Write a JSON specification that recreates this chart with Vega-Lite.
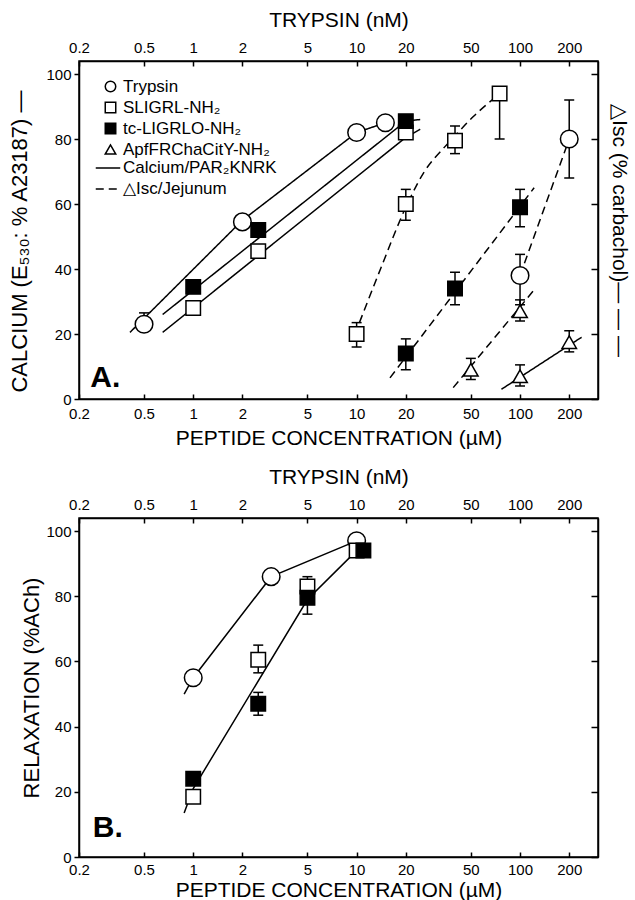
{
  "$schema": "https://vega.github.io/schema/vega-lite/v6.json",
  "background": "white",
  "padding": {"left": 8, "top": 8, "right": 0, "bottom": 0},
  "spacing": 16,
  "config": {
    "font": "Liberation Sans",
    "view": {"stroke": "black", "strokeWidth": 1.5},
    "axis": {"domainColor": "black", "domainWidth": 1.5, "tickColor": "black", "tickWidth": 1.5, "labelColor": "black", "titleColor": "black", "labelFont": "Liberation Sans", "titleFont": "Liberation Sans", "labelFontSize": 15, "titleFontSize": 21, "titleFontWeight": "normal", "grid": false},
    "legend": {"labelFont": "Liberation Sans", "labelColor": "black"}
  },
  "datasets": {
    "ptsA": [
      {"agent": "Trypsin", "assay": "Calcium/PAR₂KNRK", "x": 0.5, "y": 23, "lo": 23, "hi": 26.5},
      {"agent": "Trypsin", "assay": "Calcium/PAR₂KNRK", "x": 2, "y": 54.5, "lo": 54.5, "hi": 54.5},
      {"agent": "Trypsin", "assay": "Calcium/PAR₂KNRK", "x": 10, "y": 82, "lo": 82, "hi": 82},
      {"agent": "Trypsin", "assay": "Calcium/PAR₂KNRK", "x": 15, "y": 85, "lo": 85, "hi": 85},
      {"agent": "Trypsin", "assay": "△Isc/Jejunum", "x": 100, "y": 38, "lo": 29, "hi": 44.5},
      {"agent": "Trypsin", "assay": "△Isc/Jejunum", "x": 200, "y": 80, "lo": 68, "hi": 92},
      {"agent": "SLIGRL-NH₂", "assay": "Calcium/PAR₂KNRK", "x": 1, "y": 28, "lo": 28, "hi": 28},
      {"agent": "SLIGRL-NH₂", "assay": "Calcium/PAR₂KNRK", "x": 2.5, "y": 45.5, "lo": 45.5, "hi": 45.5},
      {"agent": "SLIGRL-NH₂", "assay": "Calcium/PAR₂KNRK", "x": 20, "y": 82, "lo": 82, "hi": 82},
      {"agent": "SLIGRL-NH₂", "assay": "△Isc/Jejunum", "x": 10, "y": 20, "lo": 16, "hi": 23.5},
      {"agent": "SLIGRL-NH₂", "assay": "△Isc/Jejunum", "x": 20, "y": 60, "lo": 55, "hi": 64.5},
      {"agent": "SLIGRL-NH₂", "assay": "△Isc/Jejunum", "x": 40, "y": 79.5, "lo": 75.5, "hi": 84},
      {"agent": "SLIGRL-NH₂", "assay": "△Isc/Jejunum", "x": 75, "y": 94, "lo": 80, "hi": 94},
      {"agent": "tc-LIGRLO-NH₂", "assay": "Calcium/PAR₂KNRK", "x": 1, "y": 34.5, "lo": 34.5, "hi": 34.5},
      {"agent": "tc-LIGRLO-NH₂", "assay": "Calcium/PAR₂KNRK", "x": 2.5, "y": 52, "lo": 52, "hi": 52},
      {"agent": "tc-LIGRLO-NH₂", "assay": "Calcium/PAR₂KNRK", "x": 20, "y": 85.5, "lo": 85.5, "hi": 85.5},
      {"agent": "tc-LIGRLO-NH₂", "assay": "△Isc/Jejunum", "x": 20, "y": 14, "lo": 9, "hi": 18.5},
      {"agent": "tc-LIGRLO-NH₂", "assay": "△Isc/Jejunum", "x": 40, "y": 34, "lo": 29, "hi": 39},
      {"agent": "tc-LIGRLO-NH₂", "assay": "△Isc/Jejunum", "x": 100, "y": 59, "lo": 53, "hi": 64.5},
      {"agent": "ApfFRChaCitY-NH₂", "assay": "Calcium/PAR₂KNRK", "x": 100, "y": 7, "lo": 4, "hi": 10.5},
      {"agent": "ApfFRChaCitY-NH₂", "assay": "Calcium/PAR₂KNRK", "x": 200, "y": 17.5, "lo": 14.5, "hi": 21},
      {"agent": "ApfFRChaCitY-NH₂", "assay": "△Isc/Jejunum", "x": 50, "y": 9, "lo": 6, "hi": 12.5},
      {"agent": "ApfFRChaCitY-NH₂", "assay": "△Isc/Jejunum", "x": 100, "y": 27, "lo": 24, "hi": 30.5}
    ],
    "fitCa": [
      {"series": "ca-tryp", "assay": "Calcium/PAR₂KNRK", "x": 0.41, "y": 20.5},
      {"series": "ca-tryp", "assay": "Calcium/PAR₂KNRK", "x": 2, "y": 55},
      {"series": "ca-tryp", "assay": "Calcium/PAR₂KNRK", "x": 10, "y": 82},
      {"series": "ca-tryp", "assay": "Calcium/PAR₂KNRK", "x": 15, "y": 85},
      {"series": "ca-tc", "assay": "Calcium/PAR₂KNRK", "x": 0.65, "y": 26},
      {"series": "ca-tc", "assay": "Calcium/PAR₂KNRK", "x": 20, "y": 85.5},
      {"series": "ca-tc", "assay": "Calcium/PAR₂KNRK", "x": 24.5, "y": 86},
      {"series": "ca-sli", "assay": "Calcium/PAR₂KNRK", "x": 0.65, "y": 20.5},
      {"series": "ca-sli", "assay": "Calcium/PAR₂KNRK", "x": 20, "y": 80.5},
      {"series": "ca-sli", "assay": "Calcium/PAR₂KNRK", "x": 24.5, "y": 83},
      {"series": "ca-apf", "assay": "Calcium/PAR₂KNRK", "x": 77, "y": 3},
      {"series": "ca-apf", "assay": "Calcium/PAR₂KNRK", "x": 238, "y": 19}
    ],
    "fitIsc": [
      {"series": "isc-sli", "assay": "△Isc/Jejunum", "x": 10.4, "y": 23.5},
      {"series": "isc-sli", "assay": "△Isc/Jejunum", "x": 14, "y": 40},
      {"series": "isc-sli", "assay": "△Isc/Jejunum", "x": 20, "y": 59},
      {"series": "isc-sli", "assay": "△Isc/Jejunum", "x": 26, "y": 70},
      {"series": "isc-sli", "assay": "△Isc/Jejunum", "x": 34.5, "y": 77.5},
      {"series": "isc-sli", "assay": "△Isc/Jejunum", "x": 40, "y": 81},
      {"series": "isc-sli", "assay": "△Isc/Jejunum", "x": 52, "y": 87},
      {"series": "isc-sli", "assay": "△Isc/Jejunum", "x": 70, "y": 92.7},
      {"series": "isc-tc", "assay": "△Isc/Jejunum", "x": 16, "y": 6.5},
      {"series": "isc-tc", "assay": "△Isc/Jejunum", "x": 122, "y": 65},
      {"series": "isc-apf", "assay": "△Isc/Jejunum", "x": 39, "y": 3.5},
      {"series": "isc-apf", "assay": "△Isc/Jejunum", "x": 124, "y": 34},
      {"series": "isc-tryp", "assay": "△Isc/Jejunum", "x": 100, "y": 38},
      {"series": "isc-tryp", "assay": "△Isc/Jejunum", "x": 200, "y": 80}
    ],
    "lblA": [{"x": 0.29, "y": 6.5, "label": "A."}],
    "ptsB": [
      {"agent": "Trypsin", "x": 1, "y": 55, "lo": 55, "hi": 55},
      {"agent": "Trypsin", "x": 3, "y": 86, "lo": 86, "hi": 86},
      {"agent": "Trypsin", "x": 10, "y": 97, "lo": 97, "hi": 97},
      {"agent": "SLIGRL-NH₂", "x": 1, "y": 18.5, "lo": 18.5, "hi": 18.5},
      {"agent": "SLIGRL-NH₂", "x": 2.5, "y": 60.5, "lo": 56.5, "hi": 65},
      {"agent": "SLIGRL-NH₂", "x": 5, "y": 83, "lo": 80, "hi": 86},
      {"agent": "SLIGRL-NH₂", "x": 10, "y": 94, "lo": 94, "hi": 94},
      {"agent": "tc-LIGRLO-NH₂", "x": 1, "y": 24, "lo": 24, "hi": 24},
      {"agent": "tc-LIGRLO-NH₂", "x": 2.5, "y": 47, "lo": 43.5, "hi": 50.5},
      {"agent": "tc-LIGRLO-NH₂", "x": 5, "y": 79.5, "lo": 74.5, "hi": 79.5},
      {"agent": "tc-LIGRLO-NH₂", "x": 11, "y": 94, "lo": 94, "hi": 94}
    ],
    "fitB": [
      {"series": "b-tryp", "x": 0.88, "y": 50},
      {"series": "b-tryp", "x": 1, "y": 55},
      {"series": "b-tryp", "x": 3, "y": 86},
      {"series": "b-tryp", "x": 10, "y": 97},
      {"series": "b-pep", "x": 0.88, "y": 13.5},
      {"series": "b-pep", "x": 1, "y": 21},
      {"series": "b-pep", "x": 5, "y": 79},
      {"series": "b-pep", "x": 10, "y": 94}
    ],
    "lblB": [{"x": 0.3, "y": 9, "label": "B."}]
  },
  "resolve": {
    "scale": {"shape": "independent", "fill": "independent", "stroke": "independent", "strokeDash": "independent"},
    "legend": {"shape": "independent", "fill": "independent", "stroke": "independent", "strokeDash": "independent"}
  },
  "vconcat": [
    {
      "width": 519,
      "height": 338,
      "resolve": {"axis": {"x": "independent", "y": "independent"}},
      "layer": [
        {
          "data": {"name": "fitCa"},
          "mark": {"type": "line", "color": "black", "strokeWidth": 1.5},
          "encoding": {
            "x": {"field": "x", "type": "quantitative", "scale": {"type": "log", "domain": [0.2, 300], "nice": false},
              "axis": {"orient": "bottom", "title": "PEPTIDE CONCENTRATION (µM)", "values": [0.2, 0.5, 1, 2, 5, 10, 20, 50, 100, 200], "format": "~g", "tickSize": -5, "labelPadding": 12, "titlePadding": 6, "labelFlush": false}},
            "y": {"field": "y", "type": "quantitative", "scale": {"domain": [0, 104], "nice": false},
              "axis": {"orient": "left", "title": "CALCIUM (E₅₃₀: % A23187) —", "values": [0, 20, 40, 60, 80, 100], "tickSize": 5, "labelPadding": 3, "titlePadding": 14, "titleFontSize": 22, "titleY": 180}},
            "detail": {"field": "series", "type": "nominal"},
            "strokeDash": {"field": "assay", "type": "nominal",
              "scale": {"domain": ["Calcium/PAR₂KNRK", "△Isc/Jejunum"], "range": [[1, 0], [8, 5]]},
              "legend": {"title": null, "orient": "none", "legendX": 16, "legendY": 94, "padding": 0, "labelFontSize": 17, "symbolType": "stroke", "symbolSize": 600, "symbolStrokeColor": "black", "symbolStrokeWidth": 1.5, "labelOffset": 2, "rowPadding": 0}}
          }
        },
        {
          "data": {"name": "fitIsc"},
          "mark": {"type": "line", "color": "black", "strokeWidth": 1.5, "interpolate": "monotone"},
          "encoding": {
            "x": {"field": "x", "type": "quantitative", "axis": null},
            "y": {"field": "y", "type": "quantitative", "axis": null},
            "detail": {"field": "series", "type": "nominal"},
            "strokeDash": {"field": "assay", "type": "nominal",
              "scale": {"domain": ["Calcium/PAR₂KNRK", "△Isc/Jejunum"], "range": [[1, 0], [8, 5]]},
              "legend": {"title": null, "orient": "none", "legendX": 16, "legendY": 94, "padding": 0, "labelFontSize": 17, "symbolType": "stroke", "symbolSize": 600, "symbolStrokeColor": "black", "symbolStrokeWidth": 1.5, "labelOffset": 2, "rowPadding": 0}}
          }
        },
        {
          "data": {"name": "ptsA"},
          "transform": [{"filter": "datum.hi > datum.lo"}],
          "mark": {"type": "rule", "color": "black", "strokeWidth": 1.5},
          "encoding": {
            "x": {"field": "x", "type": "quantitative", "axis": null},
            "y": {"field": "lo", "type": "quantitative", "axis": null},
            "y2": {"field": "hi"}
          }
        },
        {
          "data": {"name": "ptsA"},
          "transform": [{"filter": "datum.hi > datum.lo"}, {"fold": ["lo", "hi"], "as": ["end", "val"]}, {"filter": "datum.val != datum.y"}],
          "mark": {"type": "point", "shape": "stroke", "size": 100, "stroke": "black", "strokeWidth": 1.5, "filled": false, "opacity": 1},
          "encoding": {
            "x": {"field": "x", "type": "quantitative", "axis": null},
            "y": {"field": "val", "type": "quantitative", "axis": null}
          }
        },
        {
          "data": {"name": "ptsA"},
          "mark": {"type": "point", "filled": true, "strokeWidth": 1.5, "opacity": 1},
          "encoding": {
            "x": {"field": "x", "type": "quantitative",
              "axis": {"orient": "top", "title": "TRYPSIN (nM)", "values": [0.2, 0.5, 1, 2, 5, 10, 20, 50, 100, 200], "format": "~g", "tickSize": -5, "labelPadding": 11, "titlePadding": 10, "labelFlush": false}},
            "y": {"field": "y", "type": "quantitative",
              "axis": {"orient": "right", "title": "△Isc (% carbachol)— — —", "values": [0, 20, 40, 60, 80, 100], "labels": false, "tickSize": -7, "titlePadding": 10, "titleFontSize": 21}},
            "shape": {"field": "agent", "type": "nominal",
              "scale": {"domain": ["Trypsin", "SLIGRL-NH₂", "tc-LIGRLO-NH₂", "ApfFRChaCitY-NH₂"], "range": ["circle", "square", "square", "triangle-up"]},
              "legend": {"title": null, "orient": "none", "legendX": 23, "legendY": 17, "padding": 0, "labelFontSize": 17, "symbolSize": 110, "symbolStrokeWidth": 1.5, "labelOffset": 4, "rowPadding": 3}},
            "fill": {"field": "agent", "type": "nominal",
              "scale": {"domain": ["Trypsin", "SLIGRL-NH₂", "tc-LIGRLO-NH₂", "ApfFRChaCitY-NH₂"], "range": ["white", "white", "black", "white"]},
              "legend": {"title": null, "orient": "none", "legendX": 23, "legendY": 17, "padding": 0, "labelFontSize": 17, "symbolSize": 110, "symbolStrokeWidth": 1.5, "labelOffset": 4, "rowPadding": 3}},
            "stroke": {"field": "agent", "type": "nominal",
              "scale": {"domain": ["Trypsin", "SLIGRL-NH₂", "tc-LIGRLO-NH₂", "ApfFRChaCitY-NH₂"], "range": ["black", "black", "black", "black"]},
              "legend": {"title": null, "orient": "none", "legendX": 23, "legendY": 17, "padding": 0, "labelFontSize": 17, "symbolSize": 110, "symbolStrokeWidth": 1.5, "labelOffset": 4, "rowPadding": 3}},
            "size": {"condition": {"test": "datum.agent === 'Trypsin'", "value": 310}, "value": 210}
          }
        },
        {
          "data": {"name": "lblA"},
          "mark": {"type": "text", "fontSize": 30, "fontWeight": "bold", "color": "black", "align": "center", "baseline": "middle"},
          "encoding": {
            "x": {"field": "x", "type": "quantitative", "axis": null},
            "y": {"field": "y", "type": "quantitative", "axis": null},
            "text": {"field": "label"}
          }
        }
      ]
    },
    {
      "width": 519,
      "height": 339,
      "resolve": {"axis": {"x": "independent", "y": "independent"}},
      "layer": [
        {
          "data": {"name": "fitB"},
          "mark": {"type": "line", "color": "black", "strokeWidth": 1.5},
          "encoding": {
            "x": {"field": "x", "type": "quantitative", "scale": {"type": "log", "domain": [0.2, 300], "nice": false},
              "axis": {"orient": "bottom", "title": "PEPTIDE CONCENTRATION (µM)", "values": [0.2, 0.5, 1, 2, 5, 10, 20, 50, 100, 200], "format": "~g", "tickSize": -5, "labelPadding": 10, "titlePadding": 2, "labelFlush": false}},
            "y": {"field": "y", "type": "quantitative", "scale": {"domain": [0, 104], "nice": false},
              "axis": {"orient": "left", "title": "RELAXATION (%ACh)", "values": [0, 20, 40, 60, 80, 100], "tickSize": 5, "labelPadding": 3, "titlePadding": 2, "titleFontSize": 22}},
            "detail": {"field": "series", "type": "nominal"}
          }
        },
        {
          "data": {"name": "ptsB"},
          "transform": [{"filter": "datum.hi > datum.lo"}],
          "mark": {"type": "rule", "color": "black", "strokeWidth": 1.5},
          "encoding": {
            "x": {"field": "x", "type": "quantitative", "axis": null},
            "y": {"field": "lo", "type": "quantitative", "axis": null},
            "y2": {"field": "hi"}
          }
        },
        {
          "data": {"name": "ptsB"},
          "transform": [{"filter": "datum.hi > datum.lo"}, {"fold": ["lo", "hi"], "as": ["end", "val"]}, {"filter": "datum.val != datum.y"}],
          "mark": {"type": "point", "shape": "stroke", "size": 100, "stroke": "black", "strokeWidth": 1.5, "filled": false, "opacity": 1},
          "encoding": {
            "x": {"field": "x", "type": "quantitative", "axis": null},
            "y": {"field": "val", "type": "quantitative", "axis": null}
          }
        },
        {
          "data": {"name": "ptsB"},
          "mark": {"type": "point", "filled": true, "stroke": "black", "strokeWidth": 1.5, "opacity": 1},
          "encoding": {
            "x": {"field": "x", "type": "quantitative",
              "axis": {"orient": "top", "title": "TRYPSIN (nM)", "values": [0.2, 0.5, 1, 2, 5, 10, 20, 50, 100, 200], "format": "~g", "tickSize": -5, "labelPadding": 11, "titlePadding": 10, "labelFlush": false}},
            "y": {"field": "y", "type": "quantitative",
              "axis": {"orient": "right", "title": null, "values": [0, 20, 40, 60, 80, 100], "labels": false, "tickSize": -7}},
            "shape": {"field": "agent", "type": "nominal",
              "scale": {"domain": ["Trypsin", "SLIGRL-NH₂", "tc-LIGRLO-NH₂", "ApfFRChaCitY-NH₂"], "range": ["circle", "square", "square", "triangle-up"]},
              "legend": null},
            "fill": {"field": "agent", "type": "nominal",
              "scale": {"domain": ["Trypsin", "SLIGRL-NH₂", "tc-LIGRLO-NH₂", "ApfFRChaCitY-NH₂"], "range": ["white", "white", "black", "white"]},
              "legend": null},
            "size": {"condition": {"test": "datum.agent === 'Trypsin'", "value": 310}, "value": 210}
          }
        },
        {
          "data": {"name": "lblB"},
          "mark": {"type": "text", "fontSize": 30, "fontWeight": "bold", "color": "black", "align": "center", "baseline": "middle"},
          "encoding": {
            "x": {"field": "x", "type": "quantitative", "axis": null},
            "y": {"field": "y", "type": "quantitative", "axis": null},
            "text": {"field": "label"}
          }
        }
      ]
    }
  ]
}
